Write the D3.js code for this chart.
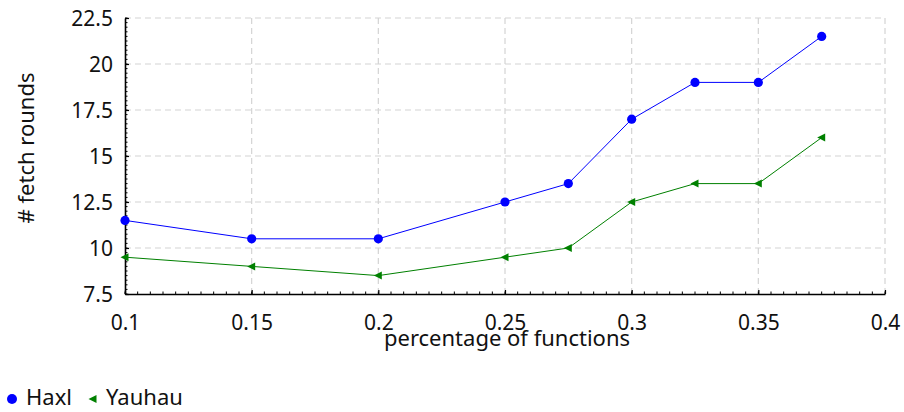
<!DOCTYPE html>
<html>
<head>
<meta charset="utf-8">
<script src="https://cdn.jsdelivr.net/npm/d3@7"></script>
<style>
  body { margin: 0; background: #fff; }
  text { font-family: "Noto Sans", "Open Sans", sans-serif; fill: #111; }
</style>
</head>
<body>
<svg class="chart"></svg>
<script>
// data
var fractions = [0.1, 0.15, 0.2, 0.25, 0.275, 0.3, 0.325, 0.35, 0.375];
var haxlRounds = [11.5, 10.5, 10.5, 12.5, 13.5, 17, 19, 19, 21.5];
var yauhauRounds = [9.5, 9, 8.5, 9.5, 10, 12.5, 13.5, 13.5, 16];
var xTicks = [0.1, 0.15, 0.2, 0.25, 0.3, 0.35, 0.4];
var yTicks = [7.5, 10, 12.5, 15, 17.5, 20, 22.5];
var seriesNames = ["Haxl", "Yauhau"];

var W = 904, H = 412;
var margin = {top: 18, right: 19, bottom: 118, left: 125},
    width = W - margin.left - margin.right,
    height = H - margin.top - margin.bottom;

var svg = d3.select(".chart").attr("width", W).attr("height", H);
var chart = svg.append("g")
    .attr("transform", "translate(" + margin.left + "," + margin.top + ")");

var x = d3.scaleLinear().domain([0.1, 0.4]).range([0, width]);
var y = d3.scaleLinear().domain([7.5, 22.5]).range([height, 0]);

// dashed grid, also makes the top/right frame
var grid = chart.append("g").attr("stroke", "#d4d4d4").attr("stroke-dasharray", "6,4").attr("stroke-width", 1.2);
grid.selectAll(".hg").data(yTicks.slice(1)).enter().append("line")
    .attr("x1", 0).attr("x2", width)
    .attr("y1", function(d) { return y(d); }).attr("y2", function(d) { return y(d); });
grid.selectAll(".vg").data(xTicks.slice(1)).enter().append("line")
    .attr("y1", 0).attr("y2", height)
    .attr("x1", function(d) { return x(d); }).attr("x2", function(d) { return x(d); });

// minor ticks (inside)
var minorX = d3.range(0.1, 0.4001, 0.005);
var minorY = d3.range(7.5, 22.5001, 0.25);
chart.append("g").selectAll("line").data(minorX).enter().append("line")
    .attr("x1", function(d) { return x(d); }).attr("x2", function(d) { return x(d); })
    .attr("y1", height).attr("y2", height - 2.5)
    .attr("stroke", "#000").attr("stroke-width", 1);
chart.append("g").selectAll("line").data(minorY).enter().append("line")
    .attr("y1", function(d) { return y(d); }).attr("y2", function(d) { return y(d); })
    .attr("x1", 0).attr("x2", 2.5)
    .attr("stroke", "#000").attr("stroke-width", 1);

// axes
var xAxis = chart.append("g").attr("transform", "translate(0," + height + ")")
    .call(d3.axisBottom(x).tickValues(xTicks).tickSizeInner(-4).tickSizeOuter(0).tickPadding(0)
        .tickFormat(d3.format("")));
var yAxis = chart.append("g")
    .call(d3.axisLeft(y).tickValues(yTicks).tickSizeInner(-4).tickSizeOuter(0).tickPadding(12)
        .tickFormat(d3.format("")));
[xAxis, yAxis].forEach(function(a) {
    a.select(".domain").attr("stroke", "#000").attr("stroke-width", 1.6);
    a.selectAll(".tick line").attr("stroke", "#000").attr("stroke-width", 1.2);
    a.selectAll("text").attr("font-size", 21).attr("font-family", null).attr("fill", "#111");
});
xAxis.selectAll(".tick text").attr("dy", null).attr("y", 36);
yAxis.selectAll(".tick text").attr("dy", "0.35em");

// series
var colors = ["#0000ff", "#008000"];
var allSeries = [haxlRounds, yauhauRounds];
var line = d3.line()
    .x(function(d, i) { return x(fractions[i]); })
    .y(function(d) { return y(d); });

allSeries.forEach(function(vals, s) {
    chart.append("path").datum(vals)
        .attr("fill", "none").attr("stroke", colors[s]).attr("stroke-width", 1)
        .attr("d", line);
});

chart.append("g").selectAll("circle").data(haxlRounds).enter().append("circle")
    .attr("cx", function(d, i) { return x(fractions[i]); })
    .attr("cy", function(d) { return y(d); })
    .attr("r", 4.6).attr("fill", colors[0]);

var tri = "M-4.5,0L3.5,-4L3.5,4Z";
chart.append("g").selectAll("path").data(yauhauRounds).enter().append("path")
    .attr("d", tri)
    .attr("transform", function(d, i) { return "translate(" + x(fractions[i]) + "," + y(d) + ")"; })
    .attr("fill", colors[1]);

// axis titles
svg.append("text")
    .attr("x", 507).attr("y", 346)
    .attr("text-anchor", "middle").attr("font-size", 22)
    .text("percentage of functions");
svg.append("text")
    .attr("transform", "translate(34,148) rotate(-90)")
    .attr("text-anchor", "middle").attr("font-size", 22)
    .text("# fetch rounds");

// legend
var legend = svg.append("g");
legend.append("circle").attr("cx", 12).attr("cy", 399).attr("r", 5).attr("fill", colors[0]);
legend.append("text").attr("x", 26).attr("y", 405).attr("font-size", 22).text(seriesNames[0]);
legend.append("path").attr("d", tri).attr("transform", "translate(93,399)").attr("fill", colors[1]);
legend.append("text").attr("x", 106).attr("y", 405).attr("font-size", 22).text(seriesNames[1]);
</script>
</body>
</html>
